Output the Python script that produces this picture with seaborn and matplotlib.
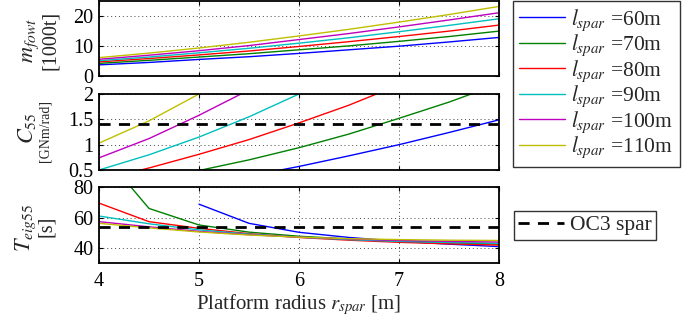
import numpy as np
import pandas as pd
import matplotlib
matplotlib.use("Agg")
import matplotlib.pyplot as plt
import seaborn as sns
from matplotlib.lines import Line2D

# ---------------- data ----------------
r_spar = [4.0, 4.5, 5.0, 5.5, 6.0, 6.5, 7.0, 7.5, 8.0]
l_spar = [60, 70, 80, 90, 100, 110]

m_fowt_60 = [3.8, 4.6, 5.6, 6.5, 7.6, 8.8, 10.0, 11.4, 12.9]
m_fowt_70 = [4.3, 5.3, 6.4, 7.5, 8.8, 10.1, 11.6, 13.2, 15.0]
m_fowt_80 = [4.8, 5.9, 7.1, 8.4, 9.9, 11.5, 13.2, 15.0, 17.0]
m_fowt_90 = [5.2, 6.4, 7.8, 9.3, 11.0, 12.8, 14.8, 16.9, 19.1]
m_fowt_100 = [5.65, 7.0, 8.5, 10.2, 12.2, 14.2, 16.4, 18.7, 21.1]
m_fowt_110 = [6.2, 7.7, 9.4, 11.3, 13.4, 15.6, 18.0, 20.5, 23.2]

C55_60 = [0.05, 0.12, 0.2, 0.38, 0.57, 0.78, 1.0, 1.24, 1.49]
C55_70 = [0.12, 0.3, 0.49, 0.7, 0.94, 1.21, 1.52, 1.84, 2.2]
C55_80 = [0.3, 0.54, 0.81, 1.1, 1.43, 1.78, 2.18, 2.6, 3.05]
C55_90 = [0.5, 0.8, 1.15, 1.55, 2.0, 2.5, 3.0, 3.6, 4.2]
C55_100 = [0.74, 1.12, 1.58, 2.08, 2.65, 3.25, 3.9, 4.6, 5.3]
C55_110 = [1.03, 1.47, 2.0, 2.6, 3.25, 3.95, 4.7, 5.5, 6.4]

T_60 = [np.nan, np.nan, 68.9, 56.3, 50.4, 47.0, 44.5, 42.6, 41.0]
T_70 = [105.0, 66.1, 55.2, 50.5, 47.8, 46.0, 44.6, 43.5, 42.6]
T_80 = [69.6, 57.4, 53.0, 49.5, 47.0, 45.2, 43.8, 42.8, 42.0]
T_90 = [61.1, 56.0, 52.0, 49.2, 47.2, 45.6, 44.4, 43.7, 43.2]
T_100 = [57.4, 54.0, 51.0, 48.8, 47.2, 46.0, 45.0, 44.4, 44.0]
T_110 = [56.3, 53.3, 50.6, 48.6, 47.2, 46.2, 45.6, 45.2, 45.0]

oc3_C55 = 1.4
oc3_T = 54.0

xticks = [4, 5, 6, 7, 8]
yticks_m = [0, 10, 20]
yticks_C = [0.5, 1, 1.5, 2]
ytick_labels_C = ["0.5", "1", "1.5", "2"]
yticks_T = [40, 60, 80]

colors = ["#0000ff", "#008000", "#ff0000", "#00bfbf", "#bf00bf", "#bfbf00"]

# ---------------- build frames ----------------
def long_frame(series_list):
    rows = []
    for l, vals in zip(l_spar, series_list):
        for r, v in zip(r_spar, vals):
            rows.append({"r": r, "v": v, "l": r"$l_{spar}$ =%dm" % l})
    return pd.DataFrame(rows)

df_m = long_frame([m_fowt_60, m_fowt_70, m_fowt_80, m_fowt_90, m_fowt_100, m_fowt_110])
df_C = long_frame([C55_60, C55_70, C55_80, C55_90, C55_100, C55_110])
df_T = long_frame([T_60, T_70, T_80, T_90, T_100, T_110])
labels = [r"$l_{spar}$ =%dm" % l for l in l_spar]
palette = dict(zip(labels, colors))

# ---------------- style ----------------
sns.set_theme(style="ticks")
plt.rcParams["font.family"] = ["Liberation Serif", "DejaVu Serif"]
plt.rcParams["mathtext.fontset"] = "stix"
plt.rcParams["xtick.direction"] = "in"
plt.rcParams["ytick.direction"] = "in"

W, H = 697, 320
fig = plt.figure(figsize=(W / 100, H / 100), dpi=100)

left = 99 / W
width = 400 / W
def ax_rect(top_px, bot_px):
    return [left, 1 - bot_px / H, width, (bot_px - top_px) / H]

ax1 = fig.add_axes(ax_rect(1.0, 76.3))
ax2 = fig.add_axes(ax_rect(94.0, 170.0))
ax3 = fig.add_axes(ax_rect(187.3, 263.3))

for ax, df in [(ax1, df_m), (ax2, df_C), (ax3, df_T)]:
    sns.lineplot(data=df, x="r", y="v", hue="l", palette=palette, hue_order=labels,
                 ax=ax, linewidth=1.0, legend=False, sort=False, estimator=None)

ax2.axhline(oc3_C55, color="black", linestyle=(0, (4, 3)), linewidth=2.0)
ax3.axhline(oc3_T, color="black", linestyle=(0, (4, 3)), linewidth=2.0)

TICK_FS = 14.5
for ax, yl, yt in [(ax1, (0, 25), yticks_m), (ax2, (0.5, 2), yticks_C), (ax3, (30, 80), yticks_T)]:
    ax.set_xlim(4, 8)
    ax.set_ylim(*yl)
    ax.set_xticks(xticks)
    ax.set_yticks(yt)
    ax.grid(True, linestyle=(0, (1, 3)), color="#444444", linewidth=0.7)
    ax.tick_params(axis="both", which="both", top=True, right=True, length=3,
                   width=0.8, labelsize=TICK_FS, colors="black")
    ax.tick_params(axis="y", pad=4)
    ax.tick_params(axis="x", pad=6)
    for s in ax.spines.values():
        s.set_linewidth(1.3)
        s.set_color("black")
    ax.set_xlabel("")
    ax.set_ylabel("")

ax1.set_xticklabels([])
ax2.set_xticklabels([])
ax2.set_yticklabels(ytick_labels_C)
ax3.set_xlabel(r"Platform radius $r_{spar}$ [m]", fontsize=15, labelpad=1)

# y labels
def px(x, y):
    return x / W, 1 - y / H

fig.text(*px(31, 40), r"$m_{fowt}$", rotation=90, ha="center", va="center", fontsize=16)
fig.text(*px(50, 40), "[1000t]", rotation=90, ha="center", va="center", fontsize=14.5)
fig.text(*px(27, 128), r"$C_{55}$", rotation=90, ha="center", va="center", fontsize=16)
fig.text(*px(45, 131), "[GNm/rad]", rotation=90, ha="center", va="center", fontsize=10)
fig.text(*px(26, 228), r"$T_{eig55}$", rotation=90, ha="center", va="center", fontsize=16)
fig.text(*px(46, 226), "[s]", rotation=90, ha="center", va="center", fontsize=14.5)

# legends
handles = [Line2D([], [], color=c, linewidth=1.0) for c in colors]
leg1 = fig.legend(handles, labels, loc="upper left", bbox_to_anchor=(513 / W, 1 - 1 / H),
                  frameon=True, fancybox=False, edgecolor="black", fontsize=15.5,
                  borderaxespad=0, handlelength=2.1, handletextpad=0.3,
                  labelspacing=0.0, borderpad=0.3)
leg1.get_frame().set_linewidth(1.0)
h2 = [Line2D([], [], color="black", linestyle=(0, (4, 3)), linewidth=2.0)]
leg2 = fig.legend(h2, ["OC3 spar"], loc="upper left", bbox_to_anchor=(514 / W, 1 - 211 / H),
                  frameon=True, fancybox=False, edgecolor="black", fontsize=15.5,
                  borderaxespad=0, handlelength=2.1, handletextpad=0.3, borderpad=0.2)
leg2.get_frame().set_linewidth(1.0)

fig.savefig("out.png", dpi=100)
